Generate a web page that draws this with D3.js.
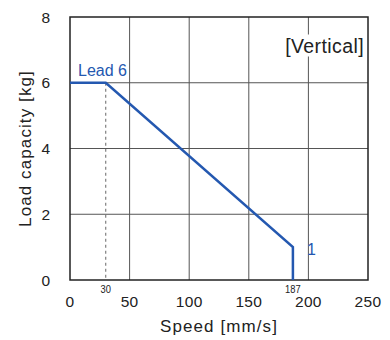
<!DOCTYPE html>
<html><head><meta charset="utf-8">
<script src="https://cdn.jsdelivr.net/npm/d3@7"></script>
<style>body{margin:0;background:#fff}svg{display:block}</style>
</head><body>
<script>
const speed = [0, 30, 187, 187];
const load = [6, 6, 1, 0];
const xTicks = [0, 50, 100, 150, 200, 250];
const yTicks = [0, 2, 4, 6, 8];
const markSpeeds = [30, 187];

const W = 390, H = 340;
const m = {l: 70, t: 17, r: 22, b: 60};
const svg = d3.select("body").append("svg").attr("width", W).attr("height", H);
const x = d3.scaleLinear().domain([0, 250]).range([m.l, W - m.r]);
const y = d3.scaleLinear().domain([0, 8]).range([H - m.b, m.t]);
const font = "Liberation Sans, Arial, sans-serif";
const blue = "#2458b0";

// grid
svg.append("g").selectAll("line").data(xTicks.slice(1, -1)).join("line")
  .attr("x1", d => x(d)).attr("x2", d => x(d)).attr("y1", y(0)).attr("y2", y(8))
  .attr("stroke", "#555").attr("stroke-width", 1);
svg.append("g").selectAll("line").data(yTicks.slice(1, -1)).join("line")
  .attr("x1", x(0)).attr("x2", x(250)).attr("y1", d => y(d)).attr("y2", d => y(d))
  .attr("stroke", "#555").attr("stroke-width", 1);

// dashed marker at 30
svg.append("line").attr("x1", x(30)).attr("x2", x(30)).attr("y1", y(6)).attr("y2", y(0))
  .attr("stroke", "#666").attr("stroke-width", 1).attr("stroke-dasharray", "3,3");

// label with white background for [Vertical]
const vt = svg.append("text").attr("x", x(250) - 4).attr("y", 52.5).attr("text-anchor", "end")
  .attr("font-family", font).attr("font-size", 19.5).attr("letter-spacing", 0.4).attr("fill", "#222").text("[Vertical]");
const bb = vt.node().getBBox();
svg.insert("rect", "text").attr("x", bb.x - 1).attr("y", bb.y).attr("width", bb.width + 2).attr("height", bb.height).attr("fill", "#fff");

// frame
svg.append("rect").attr("x", x(0)).attr("y", y(8)).attr("width", x(250) - x(0)).attr("height", y(0) - y(8))
  .attr("fill", "none").attr("stroke", "#222").attr("stroke-width", 1.5);

// line
svg.append("path").datum(speed.map((s, i) => [s, load[i]]))
  .attr("d", d3.line().x(d => x(d[0])).y(d => y(d[1])))
  .attr("fill", "none").attr("stroke", blue).attr("stroke-width", 2.5);

// axis tick labels
svg.append("g").selectAll("text").data(xTicks).join("text")
  .attr("x", d => x(d)).attr("y", 306.5).attr("text-anchor", "middle")
  .attr("font-family", font).attr("font-size", 15.5).attr("letter-spacing", 0.3).attr("fill", "#222").text(d => d);
svg.append("g").selectAll("text").data(yTicks).join("text")
  .attr("x", 50).attr("y", d => y(d) + 5.5).attr("text-anchor", "end")
  .attr("font-family", font).attr("font-size", 15.5).attr("fill", "#222").text(d => d);
svg.append("g").selectAll("text").data(markSpeeds).join("text")
  .attr("x", d => x(d)).attr("y", 293).attr("text-anchor", "middle")
  .attr("font-family", font).attr("font-size", 11).attr("fill", "#222")
  .attr("transform", d => `translate(${x(d)},0) scale(0.85,1) translate(${-x(d)},0)`).text(d => d);

// annotations
svg.append("text").attr("x", 78).attr("y", 75.5).attr("font-family", font).attr("font-size", 16)
  .attr("fill", blue).text("Lead 6");
svg.append("text").attr("x", 307).attr("y", 255).attr("font-family", font).attr("font-size", 16)
  .attr("fill", blue).text("1");

// axis titles
svg.append("text").attr("x", 219).attr("y", 332).attr("text-anchor", "middle")
  .attr("font-family", font).attr("font-size", 17).attr("letter-spacing", 1.1).attr("fill", "#222").text("Speed [mm/s]");
svg.append("text").attr("transform", `translate(31,${(y(0) + y(8)) / 2}) rotate(-90)`).attr("text-anchor", "middle")
  .attr("font-family", font).attr("font-size", 17).attr("letter-spacing", 1.1).attr("fill", "#222").text("Load capacity [kg]");
</script>
</body></html>
